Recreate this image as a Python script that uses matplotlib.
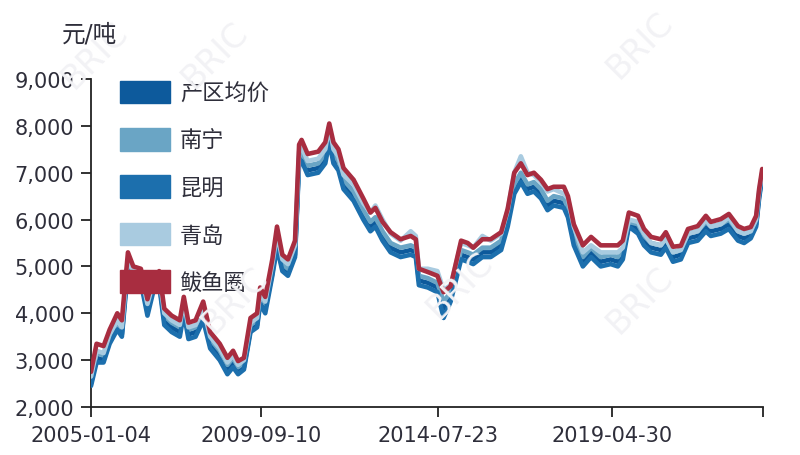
"""
Sugar spot price lines: producing-area average vs. four delivery points.
Values traced by eye from the reference chart (元/吨).
"""

import matplotlib

matplotlib.use("Agg")
import matplotlib.pyplot as plt
import matplotlib.ticker as mticker
from matplotlib.patches import Patch
import pandas as pd

plt.rcParams["font.family"] = ["DejaVu Sans", "Noto Sans CJK SC"]

DATES = [
    "2005-01-04", "2005-03-01", "2005-05-10", "2005-07-10", "2005-09-25",
    "2005-11-10", "2006-01-10", "2006-03-05", "2006-05-20", "2006-07-25",
    "2006-09-20", "2006-11-20", "2007-01-10", "2007-03-25", "2007-06-15",
    "2007-07-25", "2007-09-10", "2007-11-20", "2008-02-05", "2008-04-15",
    "2008-07-20", "2008-10-05", "2008-12-01", "2009-01-20", "2009-03-20",
    "2009-05-25", "2009-07-30", "2009-08-30", "2009-10-20", "2009-12-30",
    "2010-02-15", "2010-04-10", "2010-06-05", "2010-08-15", "2010-09-25",
    "2010-10-20", "2010-12-20", "2011-04-05", "2011-06-15", "2011-07-25",
    "2011-09-05", "2011-10-25", "2011-12-15", "2012-03-25", "2012-07-01",
    "2012-09-10", "2012-10-30", "2013-01-10", "2013-04-01", "2013-07-10",
    "2013-10-20", "2013-12-10", "2014-01-10", "2014-04-10", "2014-07-15",
    "2014-09-15", "2014-11-25", "2015-03-10", "2015-05-15", "2015-07-10",
    "2015-10-10", "2016-01-01", "2016-04-15", "2016-06-20", "2016-08-25",
    "2016-10-30", "2017-01-05", "2017-03-10", "2017-05-20", "2017-07-25",
    "2017-09-25", "2018-01-05", "2018-02-15", "2018-04-15", "2018-07-15",
    "2018-10-05", "2019-01-10", "2019-04-20", "2019-07-01", "2019-08-20",
    "2019-10-20", "2020-01-20", "2020-03-20", "2020-05-30", "2020-09-05",
    "2020-10-25", "2021-01-05", "2021-03-25", "2021-06-05", "2021-09-10",
    "2021-12-01", "2022-01-20", "2022-04-30", "2022-07-20", "2022-10-20",
    "2022-12-20", "2023-02-25", "2023-04-20", "2023-05-20", "2023-06-20",
]

AVG = [  # 产区均价
    2500, 3050, 3000, 3400, 3700, 3550, 5050, 4750, 4700, 4050,
    4500, 4650, 3850, 3700, 3600, 4100, 3550, 3600, 3950, 3350,
    3100, 2800, 2950, 2750, 2850, 3650, 3750, 4300, 4100, 4850,
    5500, 4950, 4850, 5250, 7300, 7350, 7050, 7100, 7300, 7750,
    7300, 7150, 6750, 6500, 6100, 5850, 5950, 5650, 5400, 5300,
    5350, 5300, 4700, 4650, 4550, 4100, 4350, 5250, 5200, 5150,
    5300, 5300, 5450, 5950, 6650, 6900, 6650, 6700, 6550, 6300,
    6400, 6350, 6150, 5550, 5100, 5300, 5100, 5150, 5100, 5250,
    5900, 5800, 5550, 5400, 5350, 5500, 5200, 5250, 5600, 5650,
    5850, 5750, 5800, 5900, 5650, 5600, 5650, 5900, 6500, 6950,
]
NANNING = [  # 南宁
    2600, 3150, 3100, 3500, 3800, 3650, 5100, 4850, 4800, 4150,
    4600, 4750, 3950, 3800, 3700, 4200, 3650, 3700, 4050, 3450,
    3200, 2900, 3050, 2850, 2950, 3750, 3850, 4400, 4200, 4950,
    5600, 5050, 4950, 5350, 7350, 7450, 7150, 7200, 7400, 7900,
    7400, 7250, 6850, 6600, 6200, 5950, 6050, 5750, 5500, 5400,
    5450, 5400, 4800, 4750, 4650, 4250, 4450, 5350, 5300, 5250,
    5400, 5400, 5550, 6050, 6750, 7000, 6750, 6800, 6650, 6400,
    6500, 6450, 6250, 5650, 5200, 5400, 5200, 5250, 5200, 5350,
    5950, 5900, 5650, 5500, 5450, 5600, 5300, 5350, 5700, 5750,
    5950, 5850, 5900, 6000, 5750, 5700, 5750, 6000, 6550, 7000,
]
KUNMING = [  # 昆明
    2450, 2950, 2950, 3350, 3650, 3500, 4950, 4700, 4650, 3950,
    4450, 4600, 3750, 3600, 3500, 4000, 3450, 3500, 3850, 3250,
    3000, 2700, 2850, 2700, 2800, 3600, 3700, 4200, 4000, 4800,
    5400, 4900, 4800, 5200, 7200, 7250, 6950, 7000, 7200, 7650,
    7200, 7050, 6650, 6400, 6000, 5750, 5850, 5550, 5300, 5200,
    5250, 5200, 4600, 4550, 4450, 3900, 4250, 5150, 5100, 5050,
    5200, 5200, 5350, 5850, 6550, 6800, 6550, 6600, 6450, 6200,
    6300, 6250, 6050, 5450, 5000, 5200, 5000, 5050, 5000, 5150,
    5850, 5700, 5450, 5300, 5250, 5400, 5100, 5150, 5500, 5550,
    5750, 5650, 5700, 5800, 5550, 5500, 5600, 5850, 6450, 6900,
]
QINGDAO = [  # 青岛
    2650, 3200, 3150, 3550, 3850, 3700, 5150, 4900, 4850, 4200,
    4650, 4800, 4000, 3850, 3750, 4250, 3700, 3750, 4100, 3500,
    3250, 2950, 3100, 2900, 3000, 3800, 3900, 4450, 4250, 5050,
    5700, 5150, 5050, 5450, 7450, 7550, 7250, 7300, 7500, 8000,
    7500, 7350, 6950, 6750, 6350, 6150, 6300, 6000, 5700, 5550,
    5750, 5650, 4950, 4950, 4900, 4500, 4600, 5500, 5450, 5400,
    5650, 5550, 5700, 6200, 7000, 7350, 7000, 6950, 6800, 6600,
    6650, 6550, 6450, 5850, 5300, 5450, 5300, 5300, 5300, 5400,
    6000, 5950, 5700, 5500, 5450, 5600, 5300, 5350, 5700, 5750,
    6000, 5850, 5900, 6050, 5750, 5700, 5750, 6000, 6600, 7000,
]
BAYUQUAN = [  # 鲅鱼圈
    2750, 3350, 3300, 3650, 4000, 3850, 5300, 5000, 4950, 4300,
    4750, 4900, 4100, 3950, 3850, 4350, 3800, 3850, 4250, 3600,
    3350, 3050, 3200, 2980, 3050, 3900, 4000, 4550, 4350, 5150,
    5850, 5250, 5150, 5550, 7600, 7700, 7400, 7450, 7650, 8050,
    7650, 7500, 7100, 6850, 6450, 6150, 6250, 5950, 5730, 5580,
    5650, 5580, 4950, 4880, 4800, 4450, 4580, 5550, 5500, 5400,
    5580, 5580, 5730, 6230, 7000, 7200, 6950, 7000, 6850, 6650,
    6700, 6700, 6500, 5900, 5450, 5630, 5450, 5450, 5450, 5550,
    6150, 6080, 5800, 5630, 5580, 5730, 5420, 5440, 5800, 5860,
    6080, 5950, 6010, 6120, 5860, 5800, 5840, 6080, 6650, 7080,
]

SERIES = [
    ("产区均价", AVG, "#0d5a9c"),
    ("南宁", NANNING, "#6aa5c5"),
    ("昆明", KUNMING, "#1c6fad"),
    ("青岛", QINGDAO, "#a9cbe0"),
    ("鲅鱼圈", BAYUQUAN, "#a82d40"),
]

TICK_DATES = ["2005-01-04", "2009-09-10", "2014-07-23", "2019-04-30", "2023-06-28"]
TICK_LABELS = ["2005-01-04", "2009-09-10", "2014-07-23", "2019-04-30", ""]

TEXT_COLOR = "#2e2e3a"

fig = plt.figure(figsize=(8.0, 4.56), dpi=100)
ax = fig.add_axes([91 / 800, 1 - 408 / 456, 672 / 800, 328 / 456])

# faint watermark
for wx, wy in [(95, 55), (215, 55), (640, 45), (235, 300), (460, 285), (640, 300)]:
    fig.text(wx / 800, 1 - wy / 456, "BRIC", rotation=45, fontsize=24,
             color="#f2f2f5", ha="center", va="center", zorder=0)

x = pd.to_datetime(DATES)
handles = []
for name, values, color in SERIES:
    ax.plot(x, values, color=color, linewidth=3.3, solid_joinstyle="round",
            solid_capstyle="round", zorder=3)
    handles.append(Patch(facecolor=color, edgecolor=color, label=name))

ax.set_xlim(pd.Timestamp(TICK_DATES[0]), pd.Timestamp(TICK_DATES[-1]))
ax.set_ylim(2000, 9000)
ax.set_xticks(pd.to_datetime(TICK_DATES))
ax.set_xticklabels(TICK_LABELS)
ax.yaxis.set_major_locator(mticker.MultipleLocator(1000))
ax.yaxis.set_major_formatter(mticker.FuncFormatter(lambda v, _: f"{v:,.0f}"))

for side in ("top", "right"):
    ax.spines[side].set_visible(False)
for side in ("left", "bottom"):
    ax.spines[side].set_color("#222222")
    ax.spines[side].set_linewidth(1.3)
ax.tick_params(axis="both", direction="out", length=7, width=1.3, color="#222222",
               labelsize=15, labelcolor=TEXT_COLOR)
ax.tick_params(axis="y", pad=5)
ax.tick_params(axis="x", pad=6)

fig.text(62 / 800, 1 - 35 / 456, "元/吨", fontsize=17, color=TEXT_COLOR,
         ha="left", va="center")

leg = ax.legend(
    handles=handles,
    loc="upper left",
    bbox_to_anchor=(29 / 672, 0.995),
    frameon=False,
    fontsize=16,
    handlelength=2.25,
    handleheight=1.2,
    handletextpad=0.45,
    labelspacing=1.1,
    borderpad=0.0,
    borderaxespad=0.0,
)
for t in leg.get_texts():
    t.set_color(TEXT_COLOR)

fig.savefig("out.png", dpi=100, facecolor="white")
